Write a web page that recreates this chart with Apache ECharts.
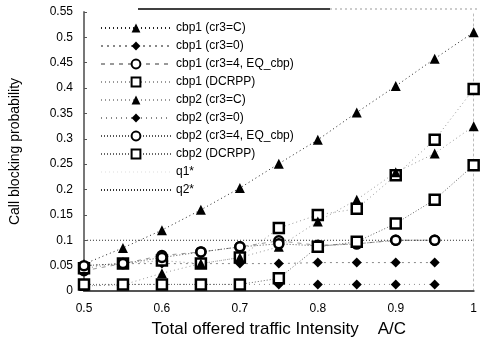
<!DOCTYPE html>
<html>
<head>
<meta charset="utf-8">
<script src="https://cdn.jsdelivr.net/npm/echarts@6/dist/echarts.min.js"></script>
<style>
  html, body { margin: 0; padding: 0; background: #fff; }
  #chart { width: 480px; height: 343px; }
</style>
</head>
<body>
<div id="chart"></div>
<script>
// Total offered traffic intensity A/C
const traffic = [0.5, 0.55, 0.6, 0.65, 0.7, 0.75, 0.8, 0.85, 0.9, 0.95, 1.0];

// Call blocking probabilities per scheme
const cbp1C     = [0.053, 0.085, 0.12, 0.16, 0.203, 0.251, 0.298, 0.352, 0.404, 0.458, 0.51];
const cbp1Zero  = [0.05, 0.054, 0.054, 0.054, 0.054, 0.054, 0.056, 0.056, 0.056, 0.056];
const cbp1EQ    = [0.04, 0.054, 0.07, 0.077, 0.087, 0.099, 0.09, 0.093, 0.1, 0.1];
const cbp1DCRPP = [0.045, 0.054, 0.06, 0.054, 0.066, 0.124, 0.15, 0.162, 0.228, 0.298, 0.398];
const cbp2C     = [0.01, 0.012, 0.035, 0.054, 0.066, 0.087, 0.137, 0.18, 0.234, 0.271, 0.325];
const cbp2Zero  = [0.01, 0.013, 0.013, 0.013, 0.013, 0.013, 0.013, 0.013, 0.013, 0.013];
const cbp2EQ    = [0.05, 0.054, 0.066, 0.077, 0.087, 0.093, 0.089, 0.093, 0.1, 0.1];
const cbp2DCRPP = [0.013, 0.013, 0.013, 0.013, 0.013, 0.025, 0.087, 0.097, 0.133, 0.18, 0.248];

// Target blocking thresholds
const q1Target = [0.1, 0.1];
const q2Target = [0.1, 0.1];
const targetSpan = [0.5, 1.0];

const yTicks = { min: 0, max: 0.55, interval: 0.05 };
const xTicks = { min: 0.5, max: 1.0, interval: 0.1 };

const FONT = '"Liberation Sans", Arial, sans-serif';

function pairs(xs, ys) {
  return ys.map((v, i) => [xs[i], v]);
}

const markerStyles = {
  triangle: { symbol: 'triangle', symbolSize: 10, itemStyle: { color: '#000' } },
  diamond:  { symbol: 'diamond',  symbolSize: 10, itemStyle: { color: '#000' } },
  circle:   { symbol: 'circle',   symbolSize: 9,  itemStyle: { color: '#fff', borderColor: '#000', borderWidth: 2.5 } },
  square:   { symbol: 'rect',     symbolSize: 10, itemStyle: { color: '#fff', borderColor: '#000', borderWidth: 2.5 } }
};

function curve(name, values, marker, line) {
  return Object.assign({
    name: name,
    type: 'line',
    data: pairs(traffic, values),
    showSymbol: true,
    lineStyle: line,
    emphasis: { disabled: true },
    animation: false
  }, markerStyles[marker]);
}

function threshold(name, values, line) {
  return {
    name: name,
    type: 'line',
    data: pairs(targetSpan, values),
    symbol: 'none',
    itemStyle: { color: line.color, opacity: 0 },
    lineStyle: line,
    emphasis: { disabled: true },
    animation: false
  };
}

const series = [
  curve('cbp1 (cr3=C)', cbp1C, 'triangle', { color: '#222', width: 1, type: [1, 3] }),
  curve('cbp1 (cr3=0)', cbp1Zero, 'diamond', { color: '#888', width: 1, type: [2, 4] }),
  curve('cbp1 (cr3=4, EQ_cbp)', cbp1EQ, 'circle', { color: '#999', width: 1, type: [4, 5] }),
  curve('cbp1 (DCRPP)', cbp1DCRPP, 'square', { color: '#999', width: 1, type: [1, 3] }),
  curve('cbp2 (cr3=C)', cbp2C, 'triangle', { color: '#999', width: 1, type: [1, 3] }),
  curve('cbp2 (cr3=0)', cbp2Zero, 'diamond', { color: '#888', width: 1, type: [1, 4] }),
  curve('cbp2 (cr3=4, EQ_cbp)', cbp2EQ, 'circle', { color: '#555', width: 1, type: [1, 2] }),
  curve('cbp2 (DCRPP)', cbp2DCRPP, 'square', { color: '#666', width: 1, type: [1, 2] }),
  threshold('q1*', q1Target, { color: '#eee', width: 1, type: [1, 3] }),
  threshold('q2*', q2Target, { color: '#333', width: 1, type: [1, 2] })
];

const chart = echarts.init(document.getElementById('chart'), null, { renderer: 'canvas' });
chart.setOption({
  animation: false,
  backgroundColor: '#fff',
  textStyle: { fontFamily: FONT, color: '#000' },
  grid: { left: 84, right: 1, top: 12, bottom: 47, containLabel: false },
  legend: {
    orient: 'vertical',
    left: 100,
    top: 22,
    padding: 0,
    itemWidth: 70,
    itemHeight: 11,
    itemGap: 6,
    selectedMode: false,
    textStyle: { fontFamily: FONT, fontSize: 12, color: '#000' },
    data: series.map(s => s.name)
  },
  xAxis: {
    type: 'value',
    min: xTicks.min,
    max: xTicks.max,
    interval: xTicks.interval,
    name: 'Total offered traffic Intensity    A/C',
    nameLocation: 'middle',
    nameGap: 30,
    nameTextStyle: { fontFamily: FONT, fontSize: 17, color: '#000' },
    axisLine: { show: true, onZero: false, lineStyle: { color: '#555', width: 2 } },
    axisTick: { show: false },
    splitLine: { show: false },
    axisLabel: { fontFamily: FONT, fontSize: 12, color: '#000', margin: 12 }
  },
  yAxis: [{
    type: 'value',
    min: yTicks.min,
    max: yTicks.max,
    interval: yTicks.interval,
    name: 'Call blocking probability',
    nameLocation: 'middle',
    nameGap: 62,
    nameRotate: 90,
    nameTextStyle: { fontFamily: FONT, fontSize: 14, color: '#000' },
    axisLine: { show: true, onZero: false, lineStyle: { color: '#777', width: 2 } },
    axisTick: { show: true, inside: true, length: 3, lineStyle: { color: '#555' } },
    splitLine: { show: false },
    axisLabel: { fontFamily: FONT, fontSize: 12, color: '#000', margin: 11 }
  }, {
    type: 'value',
    position: 'right',
    min: yTicks.min,
    max: yTicks.max,
    interval: yTicks.interval,
    axisLine: { show: true, lineStyle: { color: '#bbb', width: 1, type: [2, 3] } },
    axisTick: { show: false },
    axisLabel: { show: false },
    splitLine: { show: false }
  }],
  graphic: [
    { type: 'line', shape: { x1: 138, y1: 9, x2: 330, y2: 9 }, style: { stroke: '#000', lineWidth: 1.5 } },
    { type: 'line', shape: { x1: 330, y1: 9, x2: 480, y2: 9 }, style: { stroke: '#999', lineWidth: 1, lineDash: [2, 3] } }
  ],
  series: series
});
</script>
</body>
</html>
